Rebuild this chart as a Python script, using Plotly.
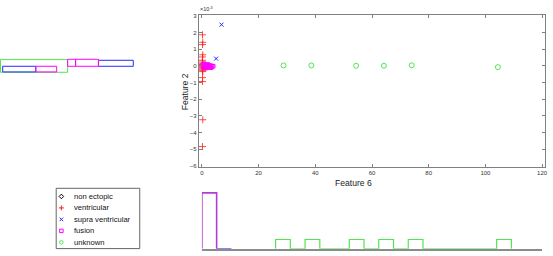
import plotly.graph_objects as go

W, H = 553, 256

# ---------------- data (Feature 6 on x, Feature 2 on y in units of 1e-3) ----------------
non_ectopic_x = [1.6, 2.2]
non_ectopic_y = [0.0, -0.04]

ventricular_x = [0.2, 0.3, 0.2, 0.3, 0.2, 0.2, 0.1, 0.3, 0.2, 0.1, 0.3, 0.2, 0.1, 0.3, 0.2, 0.2, 0.3, 0.2, 0.2, 0.3, 0.2]
ventricular_y = [1.86, 1.41, 1.27, 0.66, 0.53, 0.33, 0.22, 0.14, 0.08, 0.03, -0.02, -0.07, -0.12, -0.18, -0.24, -0.30, -0.35, -0.71, -0.94, -3.24, -4.85]

supra_x = [6.9, 5.0]
supra_y = [2.47, 0.43]

fusion_x = [0.3, 0.6, 0.9, 1.2, 1.5, 1.8, 2.1, 2.4, 2.7, 3.0, 3.3, 3.6, 4.0, 0.8, 1.4, 2.0, 2.6, 3.2]
fusion_y = [0.05, -0.10, 0.10, -0.05, 0.00, -0.12, 0.08, -0.08, 0.02, -0.10, 0.00, -0.05, -0.02, 0.12, -0.14, 0.04, -0.02, -0.12]

unknown_x = [28.8, 38.6, 54.4, 64.2, 74.0, 104.4]
unknown_y = [0.02, 0.02, 0.00, 0.00, 0.03, -0.08]

# bottom marginal histogram (Feature 6), bin width 5.2
bin_w = 5.2
hist_fusion_edges = [0.0, 5.2]
hist_fusion_counts = [6]
hist_supra_edges = [5.2, 10.4]
hist_supra_counts = [0]
hist_unknown_edges = [26.0 + bin_w * i for i in range(17)]
hist_unknown_counts = [1, 0, 1, 0, 0, 1, 0, 1, 0, 1, 0, 0, 0, 0, 0, 1]

# left marginal histogram (Feature 2), horizontal boxes: (y_low, y_high, start, end)
left_unknown = [(-0.39, 0.37, 0.5, 68)]
left_supra = [(-0.37, -0.03, 2.7, 36), (-0.03, 0.33, 99, 134)]
left_fusion = [(-0.37, -0.03, 36, 57), (-0.03, 0.39, 68, 76), (-0.03, 0.39, 76, 99)]

x_ticks = [0, 20, 40, 60, 80, 100, 120]
y_ticks = [-6, -5, -4, -3, -2, -1, 0, 1, 2, 3]

legend_names = ["non ectopic", "ventricular", "supra ventricular", "fusion", "unknown"]

# ---------------- styles ----------------
C_BLACK = "#000000"
C_RED = "#ff1a1a"
C_BLUE = "#2828ff"
C_MAG = "#ff00ff"
C_GREEN = "#50e650"
C_PURPLE = "#b43cd2"
AX = "#808080"
FONT = "Liberation Sans, Arial, sans-serif"
CLEAR = "rgba(0,0,0,0)"

groups = [
    (non_ectopic_x, non_ectopic_y, C_BLACK, "diamond-open", 4, 1),
    (ventricular_x, ventricular_y, C_RED, "cross-thin-open", 5, 0.8),
    (supra_x, supra_y, C_BLUE, "x-thin-open", 4, 1),
    (fusion_x, fusion_y, C_MAG, "square-open", 3.5, 1),
    (unknown_x, unknown_y, C_GREEN, "circle-open", 5, 1),
]

fig = go.Figure()

for gx, gy, col, sym, sz, lw in groups:
    fig.add_trace(go.Scatter(x=gx, y=gy, mode="markers", xaxis="x", yaxis="y",
                             marker=dict(symbol=sym, size=sz, color=col, line=dict(color=col, width=lw)),
                             showlegend=False, hoverinfo="skip"))

# left marginal boxes as closed outlines
for segs, col in [(left_unknown, C_GREEN), (left_supra, C_BLUE), (left_fusion, C_MAG)]:
    bx, by = [], []
    for a, b, s, e in segs:
        bx += [s, e, e, s, s, None]
        by += [a, a, b, b, a, None]
    fig.add_trace(go.Scatter(x=bx, y=by, mode="lines", xaxis="x2", yaxis="y",
                             line=dict(color=col, width=1), showlegend=False, hoverinfo="skip"))

# bottom marginal stairs
def stairs(edges, counts):
    xs, ys = [edges[0]], [0]
    for i, c in enumerate(counts):
        xs += [edges[i], edges[i + 1]]
        ys += [c, c]
    xs.append(edges[len(counts)])
    ys.append(0)
    return xs, ys

for edges, counts, col, lw in [(hist_unknown_edges, hist_unknown_counts, C_GREEN, 1.2),
                               (hist_supra_edges, hist_supra_counts, C_BLUE, 1.2),
                               (hist_fusion_edges, hist_fusion_counts, C_PURPLE, 1.6)]:
    sx, sy = stairs(edges, counts)
    fig.add_trace(go.Scatter(x=sx, y=sy, mode="lines", xaxis="x3", yaxis="y3",
                             line=dict(color=col, width=lw), showlegend=False, hoverinfo="skip"))

# manual legend markers on a pixel overlay axis
leg_x0, leg_y0, leg_dy = 61.7, 197.3, 11.7
for i, (gx, gy, col, sym, sz, lw) in enumerate(groups):
    fig.add_trace(go.Scatter(x=[leg_x0], y=[leg_y0 + i * leg_dy], mode="markers", xaxis="x4", yaxis="y4",
                             marker=dict(symbol=sym, size=3.5, color=col, line=dict(color=col, width=1)),
                             showlegend=False, hoverinfo="skip"))

def px(p):
    return p / W

def py(p):
    return 1 - p / H

tickfont = dict(family=FONT, size=6, color="#333333")

fig.update_layout(
    width=W, height=H, margin=dict(l=0, r=0, t=0, b=0),
    paper_bgcolor="white", plot_bgcolor=CLEAR,
    showlegend=False,
    xaxis=dict(domain=[px(199.9), px(547.9)], range=[-1.1, 121], anchor="y",
               tickvals=x_ticks, ticks="inside", ticklen=3, tickcolor=AX, tickwidth=1,
               showline=True, linecolor=AX, linewidth=1, mirror="ticks",
               showgrid=False, zeroline=False, tickfont=tickfont),
    yaxis=dict(domain=[py(166.85), py(12.7)], range=[-6.05, 3.02], anchor="x",
               tickvals=y_ticks, ticks="inside", ticklen=3, tickcolor=AX, tickwidth=1,
               showline=True, linecolor=AX, linewidth=1, mirror="ticks",
               showgrid=False, zeroline=False, tickfont=tickfont),
    xaxis2=dict(domain=[0, px(136)], range=[0, 136], anchor="y", visible=False),
    xaxis3=dict(domain=[px(203), px(545)], range=[0, 120], anchor="y3",
                showline=True, linecolor="#8c8c8c", linewidth=1.5, ticks="",
                showticklabels=False, showgrid=False, zeroline=False),
    yaxis3=dict(domain=[py(250.7), py(190)], range=[0, 6.39], anchor="x3", visible=False),
    xaxis4=dict(domain=[0, 1], range=[0, W], anchor="y4", visible=False),
    yaxis4=dict(domain=[0, 1], range=[H, 0], anchor="x4", visible=False),
)

annots = [
    dict(x=px(355), y=py(184), text="Feature 6", font=dict(family=FONT, size=8.6, color="#222")),
    dict(x=px(186), y=py(90), text="Feature 2", textangle=-90, font=dict(family=FONT, size=8.6, color="#222")),
    dict(x=px(199), y=py(6), text="×10<sup>-3</sup>", xanchor="left", font=dict(family=FONT, size=5.5, color="#333")),
]
for i, name in enumerate(legend_names):
    annots.append(dict(x=px(72.5), y=py(leg_y0 + i * leg_dy), text=name, xanchor="left",
                       font=dict(family=FONT, size=7.6, color="#111")))
for a in annots:
    a.update(xref="paper", yref="paper", showarrow=False)
    a.setdefault("xanchor", "center")
    a.setdefault("yanchor", "middle")
fig.update_layout(annotations=annots)

fig.add_shape(type="rect", xref="paper", yref="paper",
              x0=px(56.5), x1=px(140.5), y0=py(250.5), y1=py(189),
              line=dict(color="#666666", width=1), fillcolor=CLEAR)

fig.write_html("out.html")
